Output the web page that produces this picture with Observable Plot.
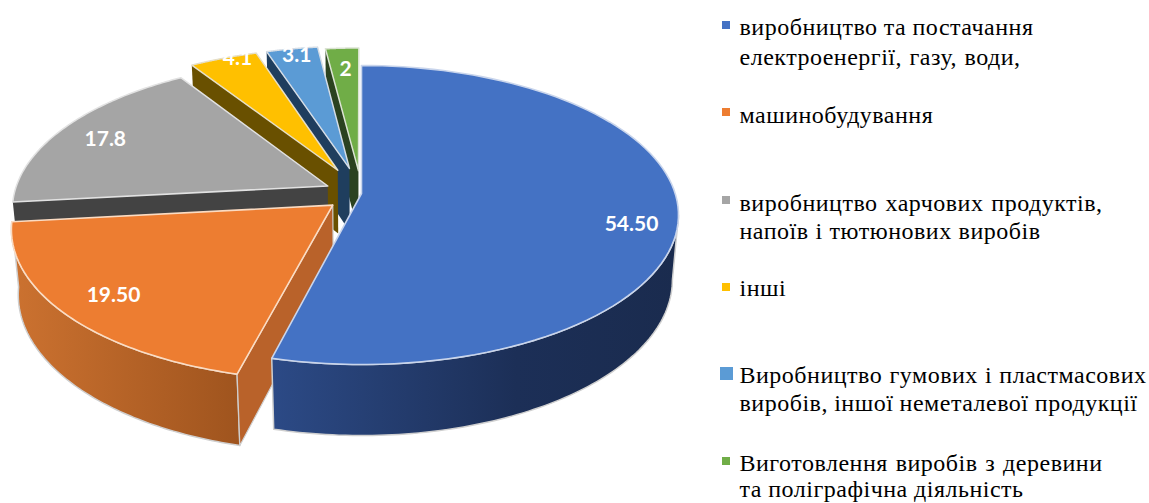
<!DOCTYPE html>
<html lang="uk"><head><meta charset="utf-8">
<script src="https://cdn.jsdelivr.net/npm/d3@7"></script>
<script src="https://cdn.jsdelivr.net/npm/@observablehq/plot@0.6"></script>
<style>
html,body{margin:0;padding:0;background:#fff;overflow:hidden}
</style></head><body><div id="wrap"></div>
<script>
// ---- data
const categories = ["виробництво та постачання електроенергії, газу, води,","машинобудування","виробництво харчових продуктів, напоїв і тютюнових виробів","інші","Виробництво гумових і пластмасових виробів, іншої неметалевої продукції","Виготовлення виробів з деревини та поліграфічна діяльність"];
const values = [54.5, 19.5, 17.8, 4.1, 3.1, 2];
const valueLabels = ["54.50","19.50","17.8","4.1","3.1","2"];
const topColors = ["#4472C4","#ED7D31","#A5A5A5","#FFC000","#5B9BD5","#70AD47"];
const edgeColors = ["#c9d5ec","#fbdcc3","#e2e2e2","#e6dfc8","#d5dde6","#dbe3d3"];
const wallColors = ["#203864","#b9622a","#434343","#695000","#1f3e5e","#2b4220"];
// ---- layout of the 3D pie
const explode = [0, 0.12, 0.12, 0.18, 0.18, 0.16];
const labelRadius = [0.86, 0.838, 0.826, 0.977, 0.936, 0.806];
const labelFrac = [0.534, 0.493, 0.478, 0.685, 0.53, 0.52];
const persp = 0.1438, zPersp = 0.0193, zDrop = 0.4474;
const cx = 361, cy = 193, R = 313.7, B = 146.4;
const total = d3.sum(values);
let acc = 0;
const slices = values.map((v, i) => {
  const a0 = acc / total * 360; acc += v; const a1 = acc / total * 360;
  const mid = (a0 + a1) / 2 * Math.PI / 180;
  return {i, a0, a1, ou: explode[i] * Math.sin(mid), ov: explode[i] * Math.cos(mid)};
});
// pie plane (u,v,z) -> projected coordinates fed to the x/y scales
function P(u, v, z) {
  const w = 1 + persp * v + zPersp * z;
  return {x: u / w, y: (-v + zDrop * z) / w};
}
function rim(s, a, z, r = 1) {
  const t = a * Math.PI / 180;
  return P(s.ou + r * Math.sin(t), s.ov + r * Math.cos(t), z);
}
const arc = (s, from, to, z) => d3.range(0, 1.0001, 1 / 90).map(t => rim(s, from + (to - from) * t, z));
const topFace = s => { const c = P(s.ou, s.ov, 0); return [c, ...arc(s, s.a0, s.a1, 0), c]; };
const outerWall = (s, from, to) => [...arc(s, from, to, 0), ...arc(s, to, from, 1), rim(s, from, 0)];
const radialWall = (s, a) => [P(s.ou, s.ov, 0), rim(s, a, 0), rim(s, a, 1), P(s.ou, s.ov, 1), P(s.ou, s.ov, 0)];
const poly = (pts, fill, stroke, sw) => Plot.line(pts, {x: "x", y: "y", fill, stroke, strokeWidth: sw, strokeLinejoin: "round"});

function defs() {
  const d = d3.create("svg:defs");
  const g = (id, stops) => {
    const l = d.append("linearGradient").attr("id", id).attr("x1", 0).attr("x2", 1).attr("y1", 0).attr("y2", 0);
    stops.forEach(([o, c]) => l.append("stop").attr("offset", o).attr("stop-color", c));
  };
  g("wallBlue", [[0, "#2c4a86"], [0.6, "#1c2f57"], [1, "#1a2b4e"]]);
  g("wallOrange", [[0, "#cc7230"], [1, "#9f541e"]]);
  return d.node();
}
const wallStroke = "#cfcfcf";
const marks = [() => defs()];
// far slices first
for (const i of [5, 4, 3, 2]) {
  const s = slices[i];
  marks.push(poly(radialWall(s, s.a0), wallColors[i], "none", 0));
  marks.push(poly(topFace(s), topColors[i], edgeColors[i], 1.5));
}
{ const s = slices[1];
  marks.push(poly(outerWall(s, s.a0, s.a1), "url(#wallOrange)", wallStroke, 1.5));
  marks.push(poly(radialWall(s, s.a0), wallColors[1], wallStroke, 1.2));
  marks.push(poly(topFace(s), topColors[1], edgeColors[1], 1.6));
}
{ const s = slices[0];
  marks.push(poly(outerWall(s, 98.3, s.a1), "url(#wallBlue)", wallStroke, 1.5));
  marks.push(poly(topFace(s), topColors[0], edgeColors[0], 1.6));
}
const labels = slices.map(s => {
  const p = rim(s, s.a0 + (s.a1 - s.a0) * labelFrac[s.i], 0, labelRadius[s.i]);
  return {...p, t: valueLabels[s.i]};
});
marks.push(Plot.text(labels, {x: "x", y: "y", text: "t", fill: "white", fontWeight: 700, fontSize: 21, fontFamily: "Lato"}));

// ---- legend, beside the pie, in page pixels converted to the plot's domain
const legendLines = [
  [["виробництво та постачання", 27, 1033], ["електроенергії, газу, води,", 57, 1020]],
  [["машинобудування", 115, 933]],
  [["виробництво харчових продуктів,", 203, 1102], ["напоїв і тютюнових виробів", 231, 1040]],
  [["інші", 288, 784]],
  [["Виробництво гумових і пластмасових", 375, 1146], ["виробів, іншої неметалевої продукції", 403, 1137]],
  [["Виготовлення виробів з деревини", 463, 1102], ["та поліграфічна діяльність", 489, 1023]]
];
const swatches = [[722,21,8,8],[722,108,8,8],[722,196,8,8],[722,283,8,8],[720,367,13,13],[722,457,8,8]];
const pxX = p => (p - cx) / R, pxY = p => (p - cy) / B;
const legendText = legendLines.flat().map(([t, yc, right]) => ({t, right, x: pxX(739), y: pxY(yc)}));
const swatchRects = swatches.map(([l, t, w, h], i) => ({x1: pxX(l), x2: pxX(l + w), y1: pxY(t), y2: pxY(t + h), c: topColors[i]}));
marks.push(Plot.rect(swatchRects, {x1: "x1", x2: "x2", y1: "y1", y2: "y2", fill: "c"}));
marks.push(Plot.text(legendText, {x: "x", y: "y", text: "t", textAnchor: "start", fill: "#000", fontSize: 24, fontFamily: "Liberation Serif"}));

const W = 1149, H = 503;
const chart = Plot.plot({
  width: W, height: H, margin: 0,
  x: {type: "linear", domain: [-cx / R, (W - cx) / R], range: [0, W], axis: null},
  y: {type: "linear", domain: [-cy / B, (H - cy) / B], range: [0, H], axis: null},
  color: {type: "identity"},
  style: {background: "white"},
  marks
});
document.getElementById("wrap").prepend(chart);
// justify each legend line to the width it has in the reference
d3.select(chart).selectAll("text").each(function () {
  const row = legendText.find(d => d.t === this.textContent);
  if (!row) return;
  this.style.letterSpacing = "0.5px";
  const n = row.t.split(" ").length - 1;
  if (n > 0) this.style.wordSpacing = ((row.right - 739 - this.getComputedTextLength()) / n) + "px";
});
</script></body></html>
